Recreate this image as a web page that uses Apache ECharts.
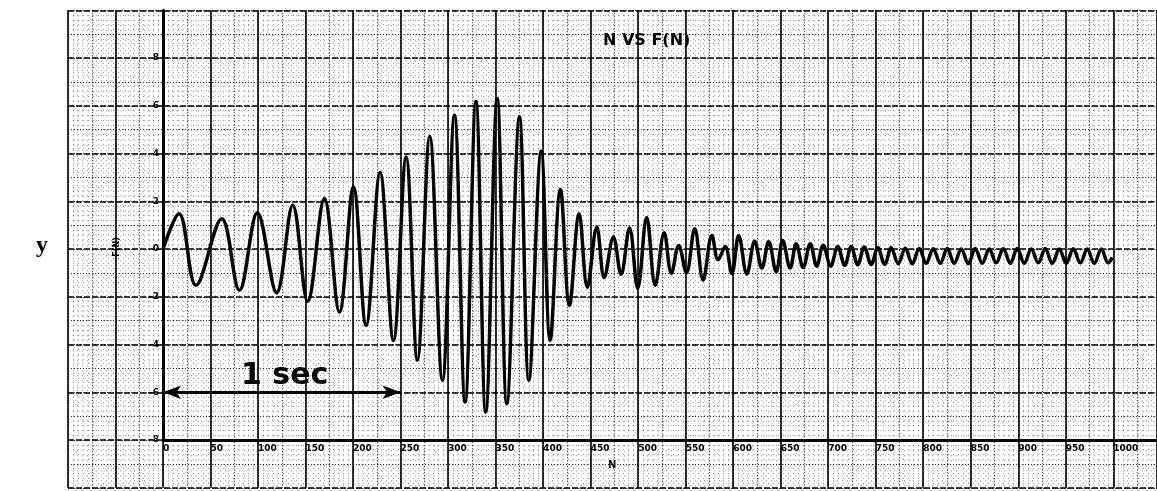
<!DOCTYPE html>
<html>
<head>
<meta charset="utf-8">
<script src="https://cdn.jsdelivr.net/npm/echarts@6/dist/echarts.min.js"></script>
<style>html,body{margin:0;padding:0;background:#fff}#c{width:1157px;height:491px}</style>
</head>
<body>
<div id="c"></div>
<script>
// N positions of the curve's turning points (start, peaks, troughs, end)
const waveN = [
  0, 16.8, 34.7, 61.8, 80.4, 99.3, 119.6, 136.5, 152.3, 169.8,
  185.6, 200.4, 213.7, 228.4, 242.5, 255.8, 267.7, 280.7, 294.0, 306.7,
  317.9, 329.3, 339.6, 351.7, 361.8, 375.1, 385.0, 398.0, 407.4, 418.2,
  427.7, 437.9, 446.5, 456.5, 464.3, 474.0, 482.0, 490.9, 499.5, 509.0,
  518.0, 527.4, 535.0, 542.7, 550.8, 559.5, 568.4, 577.6, 584.2, 591.6,
  598.6, 605.8, 614.4, 622.6, 630.2, 637.4, 645.3, 652.1, 660.0, 666.3,
  673.7, 681.1, 687.9, 694.7, 702.6, 710.0, 717.4, 724.2, 731.1, 737.9,
  745.3, 752.1, 759.5, 766.3, 773.7, 781.1, 788.4, 795.8, 803.2, 810.5,
  817.9, 825.3, 832.6, 840.0, 847.4, 854.7, 862.1, 869.5, 876.8, 884.2,
  891.6, 898.9, 906.3, 913.7, 921.1, 928.4, 935.8, 943.2, 950.5, 957.9,
  965.3, 972.6, 980.0, 987.4, 994.7, 999.0
];
// F(N) values at those points
const waveF = [
  0, 1.48, -1.52, 1.27, -1.73, 1.52, -1.83, 1.83, -2.19, 2.11,
  -2.64, 2.60, -3.20, 3.20, -3.83, 3.85, -4.66, 4.72, -5.50, 5.60,
  -6.41, 6.18, -6.83, 6.30, -6.48, 5.53, -5.49, 4.09, -3.83, 2.50,
  -2.36, 1.48, -1.60, 0.92, -1.20, 0.50, -1.06, 0.88, -1.65, 1.32,
  -1.52, 0.68, -1.02, 0.15, -1.00, 0.85, -1.30, 0.57, -0.45, 0.10,
  -1.03, 0.57, -1.05, 0.32, -0.80, 0.30, -0.95, 0.36, -0.80, 0.22,
  -0.78, 0.22, -0.72, 0.16, -0.72, 0.10, -0.68, 0.10, -0.66, 0.08,
  -0.65, 0.06, -0.64, 0.05, -0.62, 0.03, -0.62, 0.02, -0.60, 0.01,
  -0.60, 0.02, -0.60, 0.00, -0.62, 0.02, -0.60, 0.00, -0.58, 0.01,
  -0.60, 0.02, -0.60, 0.00, -0.58, 0.02, -0.60, 0.00, -0.60, 0.01,
  -0.58, 0.00, -0.60, 0.00, -0.58, -0.35
];
// "1 sec" marker span in N and its F level
const secSpan = [0, 250];
const secLevel = -6;
const titleText = 'N VS F(N)';

const data = waveN.map((n, i) => [n, waveF[i]]);

const chart = echarts.init(document.getElementById('c'), null, {renderer: 'canvas'});
const hidden = {show: false};
const bgAxis = (extra) => Object.assign({
  type: 'value', axisLine: hidden, axisTick: hidden, axisLabel: hidden
}, extra);

const option = {
  animation: false,
  backgroundColor: '#fff',
  title: {
    text: titleText, left: 598, top: 28,
    textStyle: {fontFamily: 'DejaVu Sans', fontSize: 16, fontWeight: 900, color: '#000'}
  },
  grid: [
    {left: 163, right: 0, top: 10.25, bottom: 51},
    {left: 68, right: 0, top: 10.25, bottom: 3.25},
    {left: 68, right: 0, top: 10.25, bottom: 3.25}
  ],
  xAxis: [
    {
      gridIndex: 0, type: 'value', min: 0, max: 1046, interval: 50, z: 5,
      axisLine: {show: true, onZero: false, lineStyle: {color: '#000', width: 3}},
      axisTick: hidden, splitLine: hidden,
      axisLabel: {
        color: '#000', fontFamily: 'DejaVu Sans', fontWeight: 900, fontSize: 9, margin: 4,
        align: 'left', showMaxLabel: false,
        formatter: v => (v <= 1000 && v % 50 === 0) ? String(v) : ''
      }
    },
    bgAxis({
      gridIndex: 1, min: -100, max: 1046, interval: 50,
      splitLine: {show: true, lineStyle: {color: '#000', width: 1.6}},
      minorTick: {show: false, splitNumber: 10},
      minorSplitLine: {show: true, lineStyle: {color: '#000', width: 1, type: [1, 4], opacity: 0.4}}
    }),
    bgAxis({
      gridIndex: 2, min: -100, max: 1046, interval: 25,
      splitLine: {show: true, lineStyle: {color: '#000', width: 1.2, type: [1, 2], opacity: 0.8}}
    })
  ],
  yAxis: [
    {
      gridIndex: 0, type: 'value', min: -8, max: 10, interval: 2, z: 5,
      axisLine: {show: true, onZero: false, lineStyle: {color: '#000', width: 3}},
      axisTick: hidden, splitLine: hidden,
      axisLabel: {
        color: '#000', fontFamily: 'DejaVu Sans', fontWeight: 900, fontSize: 9, margin: 4,
        showMaxLabel: false,
        formatter: v => v <= 8 ? String(v) : ''
      }
    },
    bgAxis({
      gridIndex: 1, min: -10, max: 10, interval: 2,
      splitLine: {show: true, lineStyle: {color: '#000', width: 1.6, type: [6, 2]}},
      minorTick: {show: false, splitNumber: 10},
      minorSplitLine: {show: true, lineStyle: {color: '#000', width: 1, type: [1, 4], opacity: 0.4}}
    }),
    bgAxis({
      gridIndex: 2, min: -10, max: 10, interval: 1,
      splitLine: {show: true, lineStyle: {color: '#000', width: 1.2, type: [1, 2], opacity: 0.8}}
    })
  ],
  series: [
    {
      type: 'line', xAxisIndex: 0, yAxisIndex: 0, data: data,
      smooth: 0.37, symbol: 'none', z: 10,
      lineStyle: {color: '#000', width: 3.5},
      markLine: {
        silent: true, symbol: ['arrow', 'arrow'], symbolSize: [10, 18],
        label: {show: false},
        lineStyle: {color: '#000', width: 3, type: 'solid'},
        data: [[{coord: [secSpan[0], secLevel]}, {coord: [secSpan[1], secLevel]}]]
      }
    }
  ],
  graphic: [
    {type: 'text', left: 36, top: 234, style: {text: 'y', font: 'bold 24px "Liberation Serif"', fill: '#000'}},
    {type: 'text', x: 117, y: 247, rotation: Math.PI / 2,
      style: {text: 'F(N)', font: '900 8px "DejaVu Sans"', fill: '#000', textAlign: 'center', textVerticalAlign: 'middle'}},
    {type: 'text', left: 608, top: 460, style: {text: 'N', font: '900 10px "DejaVu Sans"', fill: '#000'}},
    {type: 'text', left: 241, top: 361, z: 20, style: {text: '1 sec', font: 'bold 30px "DejaVu Sans"', fill: '#000'}}
  ]
};
chart.setOption(option);
</script>
</body>
</html>
